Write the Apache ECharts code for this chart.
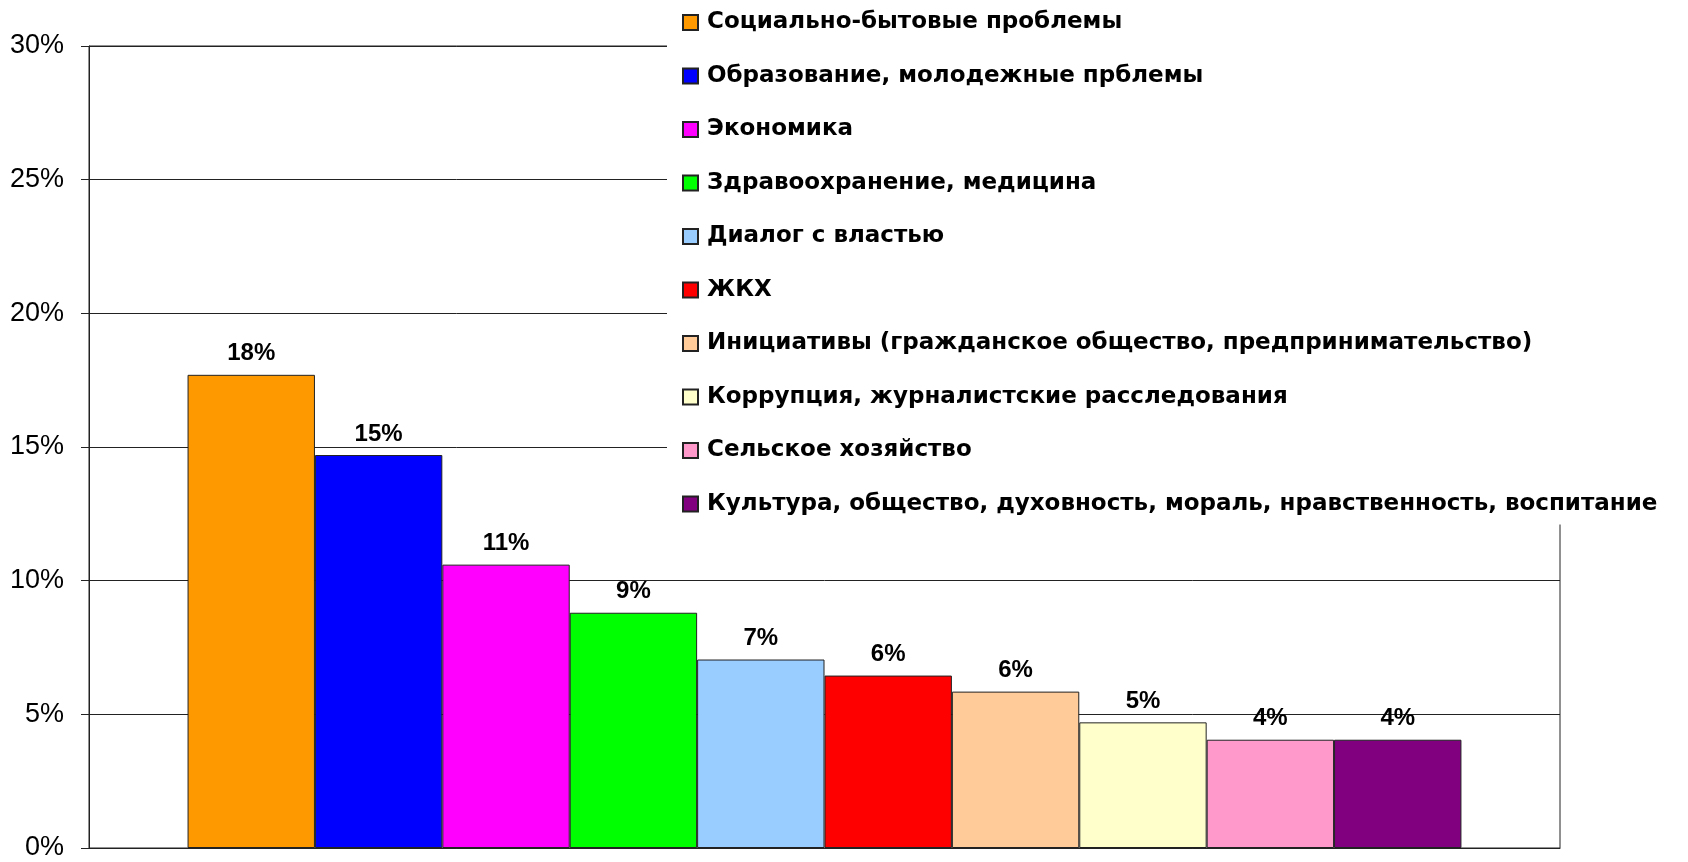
<!DOCTYPE html>
<html>
<head>
<meta charset="utf-8">
<title>Темы</title>
<script src="https://cdn.jsdelivr.net/npm/echarts@6/dist/echarts.min.js"></script>
<style>
  html, body { margin: 0; padding: 0; background: #ffffff; }
  #main { width: 1688px; height: 862px; }
</style>
</head>
<body>
<div id="main"></div>
<script type="text/javascript">
    // данные
    var topics = [
        'Социально-бытовые проблемы',
        'Образование, молодежные прблемы',
        'Экономика',
        'Здравоохранение, медицина',
        'Диалог с властью',
        'ЖКХ',
        'Инициативы (гражданское общество, предпринимательство)',
        'Коррупция, журналистские расследования',
        'Сельское хозяйство',
        'Культура, общество, духовность, мораль, нравственность, воспитание'
    ];
    var shares = [17.7, 14.7, 10.6, 8.8, 7.05, 6.45, 5.85, 4.7, 4.05, 4.05];
    var shareLabels = ['18%', '15%', '11%', '9%', '7%', '6%', '6%', '5%', '4%', '4%'];
    var colors = ['#FF9900', '#0000FF', '#FF00FF', '#00FF00', '#99CCFF',
                  '#FF0000', '#FFCC99', '#FFFFCC', '#FF99CC', '#800080'];
    var yTicks = [0, 5, 10, 15, 20, 25, 30];

    var myChart = echarts.init(document.getElementById('main'));

    var series = [];
    for (var i = 0; i < topics.length; i++) {
        series.push({
            name: topics[i],
            type: 'bar',
            data: [shares[i]],
            barGap: '0%',
            barCategoryGap: '13.4%',
            itemStyle: { color: colors[i], borderColor: '#222', borderWidth: 1 },
            label: {
                show: true,
                position: 'top',
                distance: 9,
                color: '#000',
                fontFamily: 'Liberation Sans',
                fontWeight: 'bold',
                fontSize: 24,
                formatter: (function (t) { return function () { return t; }; })(shareLabels[i])
            }
        });
    }

    option = {
        animation: false,
        backgroundColor: '#ffffff',
        grid: {
            left: 89,
            right: 128,
            top: 46,
            bottom: 14,
            show: true,
            borderColor: '#222',
            borderWidth: 1
        },
        // легенда перекрывает верх сетки, как в Excel
        legend: {
            orient: 'vertical',
            left: 667,
            top: 0,
            padding: [11, 10, 9, 15],
            backgroundColor: '#ffffff',
            itemWidth: 15,
            itemHeight: 15,
            itemGap: 30.5,
            icon: 'rect',
            selectedMode: false,
            textStyle: {
                fontFamily: 'DejaVu Sans',
                fontWeight: 'bold',
                fontSize: 23,
                color: '#000',
                padding: [0, 0, 0, 4]
            },
            data: topics
        },
        xAxis: {
            type: 'category',
            data: [''],
            axisLine: { show: true, lineStyle: { color: '#222', width: 1 } },
            axisTick: { show: false },
            axisLabel: { show: false }
        },
        yAxis: {
            type: 'value',
            min: yTicks[0],
            max: yTicks[yTicks.length - 1],
            interval: 5,
            axisLine: { show: true, lineStyle: { color: '#222', width: 1 } },
            axisTick: { show: true, length: 8, lineStyle: { color: '#222' } },
            splitLine: { show: true, lineStyle: { color: '#222', width: 1 } },
            axisLabel: {
                margin: 25,
                color: '#000',
                fontFamily: 'Liberation Sans',
                fontSize: 27,
                formatter: '{value}%'
            }
        },
        series: series
    };

    myChart.setOption(option);
</script>
</body>
</html>
